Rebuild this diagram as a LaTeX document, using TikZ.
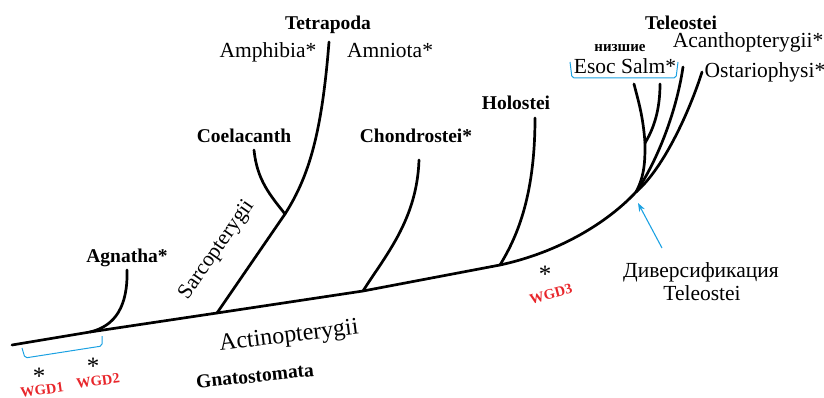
\documentclass[tikz,border=0pt]{standalone}
\usepackage{fontspec}
\setmainfont{Liberation Serif}
\usetikzlibrary{arrows.meta, positioning}
\definecolor{cMark}{HTML}{1BA1E2}
\definecolor{cWgd}{HTML}{E8262B}

\begin{document}
\begin{tikzpicture}[x=1pt, y=-1pt,
  >={Stealth[length=3mm, width=2.2mm]},
  branch/.style={line width=2.7pt, line cap=round},
  taxon/.style={inner sep=0pt, font=\fontsize{21.5}{25}\selectfont},
  clade/.style={inner sep=0pt, font=\fontsize{19.5}{23}\selectfont\bfseries},
  lower/.style={inner sep=0pt, font=\fontsize{15}{17}\selectfont\bfseries},
  wgd/.style={inner sep=0pt, text=cWgd, font=\fontsize{14.5}{17}\selectfont\bfseries},
  star/.style={inner sep=0pt, font=\fontsize{25}{25}\selectfont},
  brace/.style={draw=cMark, line width=1pt, rounded corners=2pt},
  pointer/.style={->, draw=cMark, line width=1.1pt},
]
\useasboundingbox (0,0) rectangle (824,398);

% =========================== branch points and tips ===========================
\coordinate (root) at (12,345);
\coordinate (nAgn) at (90,332);
\coordinate (nSar) at (217,313);
\coordinate (nCho) at (363,291);
\coordinate (nHol) at (500,265);
\coordinate (nTel) at (636,192);
\coordinate (nTet) at (285,214);
\coordinate (nLow) at (645,143);

\coordinate (tAgn) at (127,270);
\coordinate (tCoe) at (254,150);
\coordinate (tTet) at (329,42);
\coordinate (tCho) at (419,160);
\coordinate (tHol) at (535,118);
\coordinate (tEso) at (634,84);
\coordinate (tSal) at (660,84);
\coordinate (tAca) at (683,67);
\coordinate (tOst) at (702,72);

% =========================== tree ===========================
\draw[branch] (root) -- (nAgn) -- (nSar) -- (nCho) -- (nHol)
  .. controls (560,252) and (608,222) .. (nTel);
\draw[branch] (nAgn) .. controls (116,326) and (128,305) .. (tAgn);
\draw[branch] (nSar) -- (nTet);
\draw[branch] (nTet) .. controls (310,175) and (322,130) .. (tTet);
\draw[branch] (nTet) .. controls (270,195) and (257,180) .. (tCoe);
\draw[branch] (nCho) .. controls (385,256) and (417,220) .. (tCho);
\draw[branch] (nHol) .. controls (515,240) and (535,200) .. (tHol);
\draw[branch] (nTel) .. controls (645,175) and (645,160) .. (nLow);
\draw[branch] (nLow) .. controls (643,115) and (638,100) .. (tEso);
\draw[branch] (nLow) .. controls (656,125) and (660,105) .. (tSal);
\draw[branch] (nTel) .. controls (655,165) and (676,115) .. (tAca);
\draw[branch] (nTel) .. controls (664,168) and (690,110) .. (tOst);

% =========================== labels ===========================
\node[clade, anchor=base] (tetra) at (328,30) {Tetrapoda};
\node[taxon, anchor=base] (amph) at (268,58) {Amphibia*};
\node[taxon, anchor=base] (amni) at (390,58) {Amniota*};
\node[clade, anchor=base] (coel) at (244,143) {Coelacanth};
\node[clade, anchor=base] (chon) at (416,143) {Chondrostei*};
\node[clade, anchor=base] (holo) at (516,110) {Holostei};
\node[clade, anchor=base] (agna) at (127,262) {Agnatha*};
\node[clade, anchor=base] (tele) at (681,30) {Teleostei};
\node[lower, anchor=base] (low) at (620,52) {низшие};
\node[taxon, anchor=base] (esoc) at (625,74) {Esoc Salm*};
\node[taxon, anchor=base] (acan) at (748,48) {Acanthopterygii*};
\node[taxon, anchor=base] (osta) at (765,78) {Ostariophysi*};
\node[taxon, rotate=55] (sarc) at (217,250) {Sarcopterygii};
\node[taxon, rotate=7, font=\fontsize{24}{27}\selectfont] (acti) at (289,337) {Actinopterygii};
\node[clade, rotate=6] (gnat) at (255,376) {Gnatostomata};
\node[taxon, anchor=base] (divr) at (701,277) {Диверсификация};
\node[taxon, anchor=base] (dtel) at (702,300) {Teleostei};

% genome duplications
\node[star] (s1) at (39,376) {*};
\node[star] (s2) at (93,366) {*};
\node[star] (s3) at (545,274) {*};
\node[wgd, rotate=8] (w1) at (42,390) {WGD1};
\node[wgd, rotate=8] (w2) at (98,381) {WGD2};
\node[wgd, rotate=15] (w3) at (551,294) {WGD3};

% =========================== cyan marks ===========================
\draw[brace] (22,348) -- (25,358) -- (102,346) -- (102,336);
\draw[brace] (570,62) -- (572,78) -- (676,78) -- (678,62);
\coordinate (arrTail) at (662,248);
\coordinate (arrHead) at (638,203);
\draw[pointer] (arrTail) -- (arrHead);

\end{tikzpicture}
\end{document}
